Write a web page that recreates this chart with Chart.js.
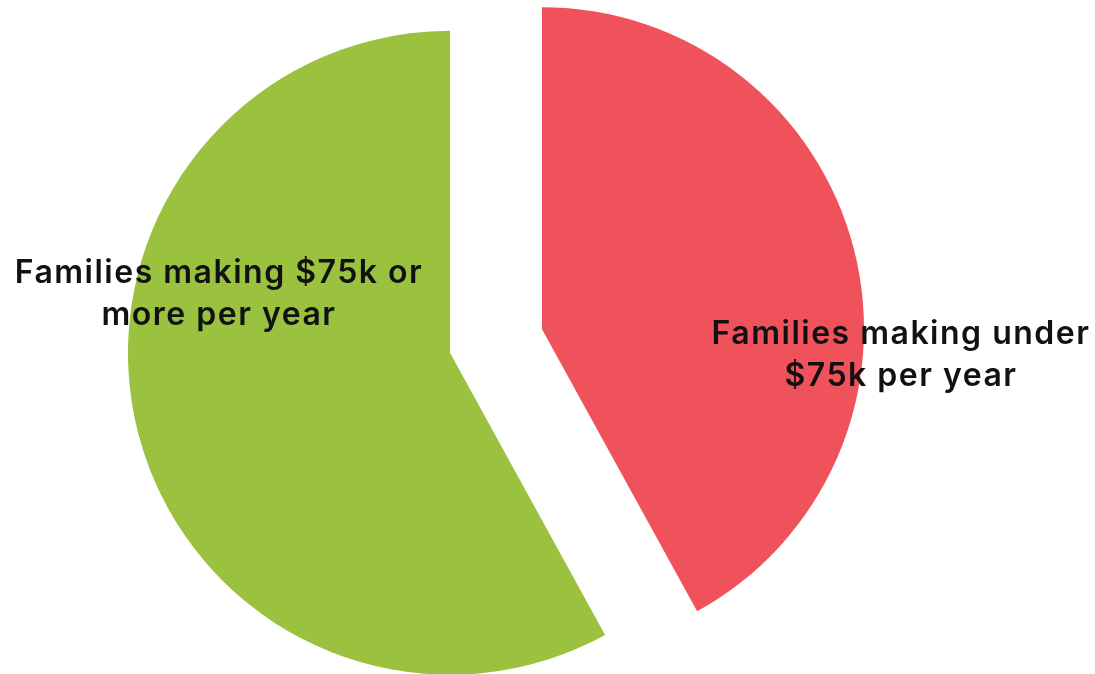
<!DOCTYPE html>
<html lang="en">

<head>
    <meta charset="UTF-8">
    <title>Family Income Split</title>
    <script src="https://cdn.jsdelivr.net/npm/chart.js"></script>
    <style>
        html, body { margin: 0; padding: 0; background: #ffffff; }
        #wrap { width: 1095px; height: 674px; }
    </style>
</head>

<body>
    <div id="wrap"><canvas id="incomeChart"></canvas></div>

    <script>
        const categories = ['Families making under $75k per year', 'Families making $75k or more per year'];
        const shares = [42, 58];
        const labelLines = [
            ['Families making under', '$75k per year'],
            ['Families making $75k or', 'more per year']
        ];
        const sliceColors = ['#f0525c', '#9bc23f'];

        // label anchors, relative to the pie centre
        const labelAnchors = [
            { dx: 405, dy: 3 },
            { dx: -277, dy: -58 }
        ];

        // pull every slice out along its middle angle without growing its radius
        // (the built-in `offset` option also enlarges the arc)
        const explode = {
            id: 'explode',
            afterDatasetsUpdate(chart, args, opts) {
                const meta = chart.getDatasetMeta(0);
                const area = chart.chartArea;
                const cx = (area.left + area.right) / 2;
                const cy = (area.top + area.bottom) / 2;
                meta.data.forEach(arc => {
                    const mid = (arc.startAngle + arc.endAngle) / 2;
                    arc.x = cx + Math.cos(mid) * opts.distance;
                    arc.y = cy + Math.sin(mid) * opts.distance;
                });
            }
        };

        const sliceLabels = {
            id: 'sliceLabels',
            afterDatasetsDraw(chart) {
                const ctx = chart.ctx;
                const area = chart.chartArea;
                const cx = (area.left + area.right) / 2;
                const cy = (area.top + area.bottom) / 2;
                ctx.save();
                ctx.font = '600 32px Inter';
                ctx.letterSpacing = '1.5px';
                ctx.fillStyle = '#111111';
                ctx.textAlign = 'center';
                ctx.textBaseline = 'alphabetic';
                labelLines.forEach((lines, i) => {
                    lines.forEach((line, j) => {
                        ctx.fillText(line, cx + labelAnchors[i].dx, cy + labelAnchors[i].dy + j * 42);
                    });
                });
                ctx.restore();
            }
        };

        const ctx = document.getElementById('incomeChart').getContext('2d');
        new Chart(ctx, {
            type: 'pie',
            data: {
                labels: categories,
                datasets: [{
                    data: shares,
                    backgroundColor: sliceColors,
                    borderWidth: 0,
                    radius: 322
                }]
            },
            options: {
                responsive: true,
                maintainAspectRatio: false,
                animation: false,
                layout: { padding: { left: 0, right: 103, top: 8, bottom: 0 } },
                plugins: {
                    legend: { display: false },
                    tooltip: { enabled: false },
                    explode: { distance: 47.5 }
                }
            },
            plugins: [explode, sliceLabels]
        });
    </script>

</body>

</html>
